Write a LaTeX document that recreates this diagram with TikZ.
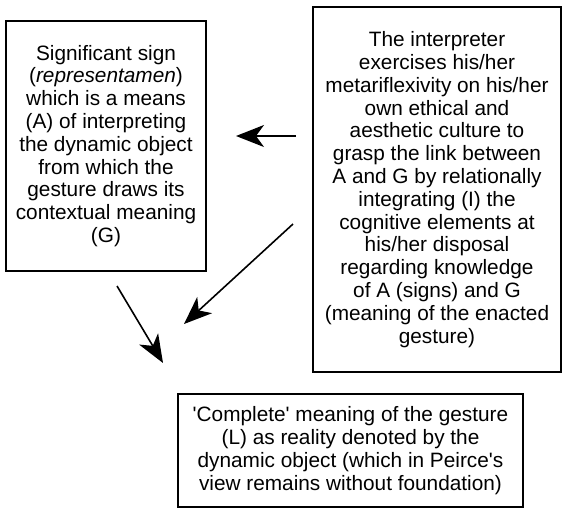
\documentclass[tikz,border=0pt]{standalone}
\usepackage{fontspec}
\setmainfont{Liberation Sans}[Ligatures=TeXOff]
\usetikzlibrary{arrows.meta}
\begin{document}
\begin{tikzpicture}[x=1pt,y=-1pt,
  box/.style={draw, line width=1.6pt, align=center, inner sep=0pt,
    font=\fontsize{20.8pt}{22.8pt}\selectfont},
  arr/.style={line width=1.6pt, -{Stealth[length=28pt,width=22pt,inset=8pt]}}]
\useasboundingbox (0,0) rectangle (563,509);
\node[box, minimum width=200pt, minimum height=250pt] (sign) at (106,146)
  {Significant sign\\(\textit{representamen})\\which is a means\\(A) of interpreting\\the dynamic object\\from which the\\gesture draws its\\contextual meaning\\(G)};
\node[box, minimum width=248pt, minimum height=365pt] (interp) at (437,189.5)
  {The interpreter\\exercises his/her\\metariflexivity on his/her\\own ethical and\\aesthetic culture to\\grasp the link between\\A and G by relationally\\integrating (I) the\\cognitive elements at\\his/her disposal\\regarding knowledge\\of A (signs) and G\\(meaning of the enacted\\gesture)};
\node[box, minimum width=345pt, minimum height=113pt] (meaning) at (350.5,450.5)
  {'Complete' meaning of the gesture\\(L) as reality denoted by the\\dynamic object (which in Peirce's\\view remains without foundation)};
\coordinate (h1) at (296,136);
\coordinate (h2) at (236,136);
\coordinate (d1) at (293,224);
\coordinate (d2) at (184,324);
\coordinate (s1) at (117,286);
\coordinate (s2) at (163,363);
\draw[arr] (h1) -- (h2);
\draw[arr] (d1) -- (d2);
\draw[arr] (s1) -- (s2);
\end{tikzpicture}
\end{document}
